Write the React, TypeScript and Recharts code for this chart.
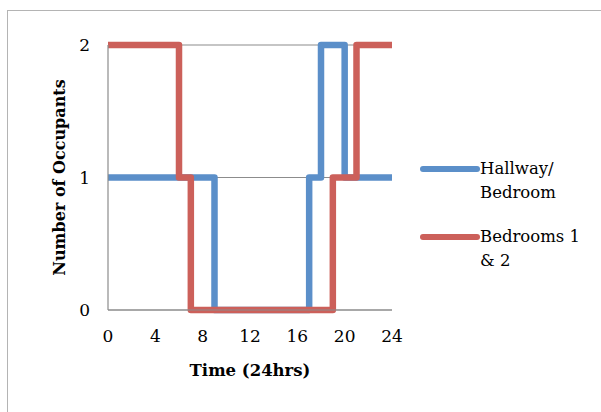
import React from 'react';
import { LineChart, Line, XAxis, YAxis, CartesianGrid, Legend } from 'recharts';

const hours = [0, 6, 7, 9, 17, 18, 19, 20, 21, 24];
const hallwayBedroom = [1, 1, 1, 0, 1, 2, 2, 1, 1, 1];
const bedrooms12 = [2, 1, 0, 0, 0, 0, 1, 1, 2, 2];
const xTicks = [0, 4, 8, 12, 16, 20, 24];
const yTicks = [0, 1, 2];
const seriesNames = ['Hallway/Bedroom', 'Bedrooms 1 & 2'];
const xTitle = 'Time (24hrs)';
const yTitle = 'Number of Occupants';

const data = hours.map((h, i) => ({
  hour: h,
  hallway: hallwayBedroom[i],
  bedrooms: bedrooms12[i],
}));

const FONT = '"DejaVu Serif", serif';
const BLUE = '#5b8fc9';
const RED = '#cc605a';
const GRID = '#8c8c8c';

const renderLegend = (props: any) => {
  const items = [...(props.payload || [])].sort(
    (a: any, b: any) => seriesNames.indexOf(a.value) - seriesNames.indexOf(b.value)
  );
  return (
    <div style={{ fontFamily: FONT, fontSize: 16.5, lineHeight: '24px', color: '#000' }}>
      {items.map((p: any, i: number) => (
        <div
          key={i}
          style={{ display: 'flex', alignItems: 'flex-start', marginBottom: i === 0 ? 20 : 0 }}
        >
          <svg width={60} height={24} style={{ flex: 'none', display: 'block' }}>
            <line x1={3} x2={57} y1={12} y2={12} stroke={p.color} strokeWidth={6} strokeLinecap="round" />
          </svg>
          <div style={{ width: 112, textAlign: 'left' }}>{String(p.value).replace('/', '/\u200B')}</div>
        </div>
      ))}
    </div>
  );
};

const YTitle = (props: any) => {
  const vb = props.viewBox || {};
  const x = vb.x + 11;
  const y = vb.y + vb.height / 2;
  return (
    <text
      x={x}
      y={y}
      transform={`rotate(-90, ${x}, ${y})`}
      textAnchor="middle"
      dominantBaseline="central"
      fontFamily={FONT}
      fontWeight="bold"
      fontSize={16}
      fill="#000"
    >
      {yTitle}
    </text>
  );
};

const XTitle = (props: any) => {
  const vb = props.viewBox || {};
  const x = vb.x + vb.width / 2;
  const y = vb.y + 60;
  return (
    <text
      x={x}
      y={y}
      textAnchor="middle"
      dominantBaseline="central"
      fontFamily={FONT}
      fontWeight="bold"
      fontSize={16.5}
      fill="#000"
    >
      {xTitle}
    </text>
  );
};

export default function App() {
  return (
    <div
      style={{
        position: 'absolute',
        left: 0,
        top: 0,
        width: 601,
        height: 412,
        overflow: 'hidden',
        background: '#fff',
      }}
    >
      <div
        style={{
          position: 'absolute',
          left: 7,
          top: 10,
          width: 700,
          height: 600,
          border: '1px solid #b4b4b4',
          boxSizing: 'border-box',
        }}
      />
      <div style={{ position: 'absolute', left: 0, top: 0 }}>
        <LineChart
          width={601}
          height={412}
          data={data}
          margin={{ top: 45, right: 209, bottom: 42, left: 48 }}
        >
          <CartesianGrid horizontal={true} vertical={false} stroke={GRID} strokeWidth={1.2} />
          <XAxis
            dataKey="hour"
            type="number"
            domain={[0, 24]}
            ticks={xTicks}
            interval={0}
            height={60}
            axisLine={{ stroke: GRID, strokeWidth: 1.2 }}
            tickLine={false}
            tickSize={0}
            tickMargin={20}
            tick={{ fontFamily: FONT, fontSize: 17, fill: '#000' }}
            label={<XTitle />}
          />
          <YAxis
            type="number"
            domain={[0, 2]}
            ticks={yTicks}
            interval={0}
            width={60}
            axisLine={{ stroke: GRID, strokeWidth: 1.2 }}
            tickLine={false}
            tickSize={0}
            tickMargin={18}
            tick={{ fontFamily: FONT, fontSize: 17, fill: '#000' }}
            label={<YTitle />}
          />
          <Legend
            layout="vertical"
            align="center"
            verticalAlign="middle"
            content={renderLegend}
            wrapperStyle={{ left: 420, top: 157, width: 180 }}
          />
          <Line
            type="stepAfter"
            dataKey="hallway"
            name={seriesNames[0]}
            stroke={BLUE}
            strokeWidth={6.5}
            strokeLinejoin="round"
            dot={false}
            activeDot={false}
            isAnimationActive={false}
          />
          <Line
            type="stepAfter"
            dataKey="bedrooms"
            name={seriesNames[1]}
            stroke={RED}
            strokeWidth={6.5}
            strokeLinejoin="round"
            dot={false}
            activeDot={false}
            isAnimationActive={false}
          />
        </LineChart>
      </div>
    </div>
  );
}
